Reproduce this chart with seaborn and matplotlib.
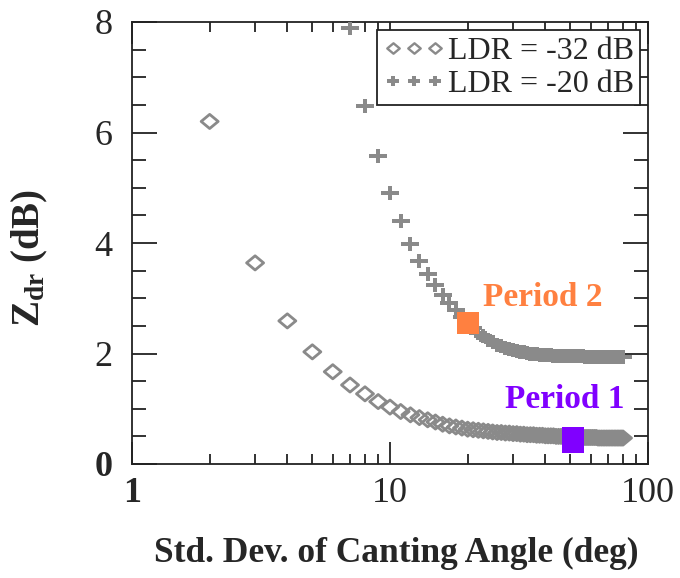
import numpy as np
import pandas as pd
import matplotlib
matplotlib.use("Agg")
import matplotlib.pyplot as plt
from matplotlib.path import Path
from matplotlib.lines import Line2D
import seaborn as sns

# ---- data ----
x_ldr32 = list(range(2, 81))
y_ldr32 = [6.20, 3.64, 2.59, 2.03, 1.67, 1.43, 1.27, 1.13, 1.03,
           0.95, 0.89, 0.84, 0.80, 0.76, 0.72, 0.69, 0.67, 0.65, 0.63,
           0.62, 0.61, 0.60, 0.59, 0.58, 0.57, 0.57, 0.56, 0.56, 0.55,
           0.55, 0.54, 0.54, 0.53, 0.53, 0.53, 0.52, 0.52, 0.52, 0.51,
           0.51, 0.51, 0.51, 0.50, 0.50, 0.50, 0.50, 0.49, 0.49, 0.49,
           0.49, 0.49, 0.49, 0.48, 0.48, 0.48, 0.48, 0.48, 0.48, 0.48,
           0.48, 0.48, 0.48, 0.47, 0.47, 0.47, 0.47, 0.47, 0.47, 0.47,
           0.47, 0.47, 0.47, 0.47, 0.47, 0.47, 0.47, 0.47, 0.47, 0.47]

x_ldr20 = list(range(7, 81))
y_ldr20 = [7.89, 6.48, 5.57, 4.90, 4.39, 3.99, 3.68, 3.44, 3.24, 3.06,
           2.91, 2.78, 2.66, 2.56, 2.46, 2.38, 2.31, 2.25, 2.20, 2.16,
           2.13, 2.10, 2.08, 2.06, 2.04, 2.03, 2.02, 2.01, 2.00, 1.99,
           1.99, 1.98, 1.98, 1.97, 1.97, 1.97, 1.96, 1.96, 1.96, 1.96,
           1.95, 1.95, 1.95, 1.95, 1.95, 1.95, 1.95, 1.95, 1.95, 1.95,
           1.94, 1.94, 1.94, 1.94, 1.94, 1.94, 1.94, 1.94, 1.94, 1.94,
           1.94, 1.94, 1.94, 1.94, 1.94, 1.94, 1.94, 1.94, 1.94, 1.94,
           1.94, 1.94, 1.94, 1.94]

period_labels = ["Period 1", "Period 2"]
period_x = [51, 20]
period_y = [0.43, 2.55]
period_colors = ["#8000FF", "#FF8040"]

series_labels = ["LDR = -32 dB", "LDR = -20 dB"]
x_ticks = [1, 10, 100]
x_tick_labels = ["1", "10", "100"]
y_ticks = [0, 2, 4, 6, 8]
y_tick_labels = ["0", "2", "4", "6", "8"]

# ---- style ----
sns.set_style("ticks")
plt.rcParams["font.family"] = ["Liberation Serif", "DejaVu Serif"]
plt.rcParams["mathtext.fontset"] = "custom"
plt.rcParams["mathtext.rm"] = "Liberation Serif"
plt.rcParams["mathtext.bf"] = "Liberation Serif:bold"

GRAY = "#8a8a8a"

diamond = Path([(-1.2, 0), (0, 1), (1.2, 0), (0, -1), (-1.2, 0)],
               [Path.MOVETO, Path.LINETO, Path.LINETO, Path.LINETO, Path.CLOSEPOLY])
t = 0.34
pv = [(-1.25, -t), (-t, -t), (-t, -1), (t, -1), (t, -t), (1.25, -t),
      (1.25, t), (t, t), (t, 1), (-t, 1), (-t, t), (-1.25, t), (-1.25, -t)]
plus = Path(pv, [Path.MOVETO] + [Path.LINETO] * 11 + [Path.CLOSEPOLY])
rect_tall = Path([(-0.39, -0.5), (0.39, -0.5), (0.39, 0.5), (-0.39, 0.5), (-0.39, -0.5)],
                 [Path.MOVETO, Path.LINETO, Path.LINETO, Path.LINETO, Path.CLOSEPOLY])

fig = plt.figure(figsize=(6.8, 5.78), dpi=100)
ax = fig.add_axes([132 / 680, 1 - 464 / 578, 516 / 680, 442 / 578])

df32 = pd.DataFrame({"x": x_ldr32, "y": y_ldr32})
df20 = pd.DataFrame({"x": x_ldr20, "y": y_ldr20})

sns.scatterplot(data=df32, x="x", y="y", ax=ax, marker=diamond, s=150,
                facecolors="none", edgecolor=GRAY, linewidth=2.0, zorder=3)
sns.scatterplot(data=df20, x="x", y="y", ax=ax, marker=plus, s=150,
                color=GRAY, linewidth=0, zorder=3)

# period markers
sns.scatterplot(x=[period_x[0]], y=[period_y[0]], ax=ax, marker=rect_tall, s=377,
                color=period_colors[0], linewidth=0, zorder=5)
sns.scatterplot(x=[period_x[1]], y=[period_y[1]], ax=ax, marker="s", s=230,
                color=period_colors[1], linewidth=0, zorder=5)

ax.text(27.8, 1.16, period_labels[0], color=period_colors[0], fontsize=24,
        fontweight="bold", ha="left", va="center")
ax.text(22.9, 3.02, period_labels[1], color=period_colors[1], fontsize=24,
        fontweight="bold", ha="left", va="center")

ax.set_xscale("log")
ax.set_xlim(1, 100)
ax.set_ylim(0, 8)
ax.set_xticks(x_ticks)
ax.set_xticklabels(x_tick_labels)
ax.set_yticks(y_ticks)
ax.set_yticklabels(y_tick_labels)
ax.set_yticks(np.arange(0, 8.01, 0.5), minor=True)
ax.xaxis.set_minor_locator(matplotlib.ticker.LogLocator(base=10, subs=np.arange(2, 10)))
ax.xaxis.set_minor_formatter(matplotlib.ticker.NullFormatter())

for lab in ax.get_xticklabels()[:1] + ax.get_yticklabels()[:1]:
    lab.set_fontweight("bold")

ax.tick_params(axis="both", which="both", direction="in", top=True, right=True,
               color="#222222", width=1.3)
ax.tick_params(axis="y", which="major", length=18, labelsize=26, pad=14)
ax.tick_params(axis="y", which="minor", length=10)
ax.tick_params(axis="x", which="major", length=16, labelsize=26, pad=9)
ax.tick_params(axis="x", which="minor", length=7.5)
for sp in ax.spines.values():
    sp.set_linewidth(1.3)
    sp.set_color("#222222")

ax.set_xlabel("Std. Dev. of Canting Angle (deg)", fontsize=25.5, fontweight="bold")
ax.set_ylabel(r"$\mathbf{Z_{dr}}$ (dB)", fontsize=28, fontweight="bold")
ax.xaxis.set_label_coords(0.512, -0.165)
ax.yaxis.set_label_coords(-0.158, 0.466)

handles = [
    Line2D([], [], linestyle="", marker=diamond, markersize=9, markerfacecolor="none",
           markeredgecolor=GRAY, markeredgewidth=1.7),
    Line2D([], [], linestyle="", marker=plus, markersize=9, markerfacecolor=GRAY,
           markeredgewidth=0),
]
leg = ax.legend(handles, series_labels, loc="upper right", numpoints=3,
                fontsize=23, frameon=True, fancybox=False, handlelength=1.9,
                handletextpad=0.1, borderpad=0.2, borderaxespad=0.25,
                labelspacing=0.12, borderaxespad_kw=None) if False else ax.legend(
    handles, series_labels, loc="upper right", numpoints=3,
    fontsize=23, frameon=True, fancybox=False, handlelength=1.9,
    handletextpad=0.1, borderpad=0.2, borderaxespad=0.25, labelspacing=0.12)
leg.get_frame().set_edgecolor("#222222")
leg.get_frame().set_linewidth(1.3)
leg.get_frame().set_alpha(1)

fig.savefig("out.png", dpi=100)
